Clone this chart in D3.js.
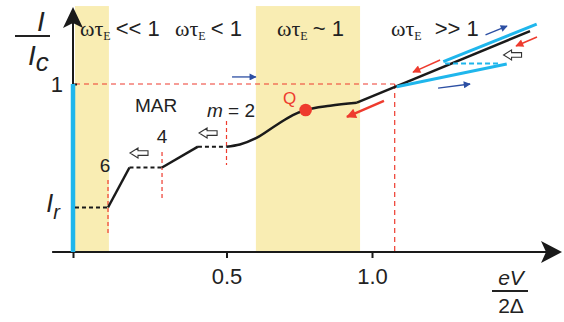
<!DOCTYPE html>
<html><head><meta charset="utf-8">
<script src="https://cdn.jsdelivr.net/npm/d3@7"></script>
<style>
html,body{margin:0;padding:0;background:#fff;}
svg{display:block;}
</style></head><body>
<svg id="chart" width="564" height="322"></svg>
<script>
// ---------- data ----------
const xTicks = [0, 0.5, 1.0];
const xTickLabels = ["", "0.5", "1.0"];
const yTicks = [1];
const yTickLabels = ["1"];
const Ir = 0.265;
const gapV = 1.078;
const regimeBands = [[0.0065, 0.117], [0.601, 0.959]];
const regimeOps = ["<< 1", "< 1", "~ 1", ">> 1"];
// MAR steps (rises solid, plateaus dashed)
const stepRises = [[[0.114, Ir], [0.184, 0.503]], [[0.290, 0.503], [0.407, 0.627]]];
const stepPlateaus = [[[0.0065, Ir], [0.114, Ir]], [[0.184, 0.503], [0.290, 0.503]], [[0.407, 0.627], [0.5, 0.627]]];
const marOrders = ["6", "4", "m = 2"];
const marVolts = [0.114, 0.290, 0.5];
const marDashSpan = [[0.113, 0.429], [0.310, 0.595], [0.518, 0.780]];
// smooth branch
const curveX = [0.5, 0.546, 0.603, 0.672, 0.728, 0.772, 0.856, 0.948];
const curveY = [0.627, 0.640, 0.679, 0.756, 0.815, 0.845, 0.871, 0.889];
const ohmicLine = [[0.948, 0.889], [1.543, 1.315]];
const Q = [0.772, 0.845];
// hysteresis (cyan)
const cyanLines = [[[1.245, 1.133], [1.566, 1.357]], [[1.085, 0.984], [1.463, 1.119]]];
const cyanDash = [[1.251, 1.122], [1.440, 1.122]];
// arrows
const blueArrows = [[[0.519, 1.042], [0.601, 1.042]], [[1.390, 1.292], [1.464, 1.345]], [[1.227, 0.976], [1.337, 1.0]]];
const redArrows = [[[1.567, 1.280], [1.495, 1.226]], [[1.234, 1.143], [1.141, 1.071]]];
const redArrowThick = [[1.041, 0.899], [0.914, 0.804]];
const hollowArrows = [[0.215, 0.589], [0.440, 0.708], [1.483, 1.173]];
const xAxisExtent = [-0.068, 1.653];
const yAxisTop = 1.458;
const bandTop = 1.464;

// ---------- scales ----------
const svg = d3.select("#chart");
const x = d3.scaleLinear().domain([0, 0.5, 1.0]).range([73, 226.5, 372]);
const y = d3.scaleLinear().domain([0, 1]).range([252, 84]);

const SANS = "'Liberation Sans', Arial, sans-serif";
const SERIF = "'Liberation Serif', 'Times New Roman', serif";
const YELLOW = "#f9edb3", RED = "#ee3b2e", CYAN = "#1fb6ec", BLUE = "#2c4fa3";

const defs = svg.append("defs");
function marker(id, color, w, h) {
  defs.append("marker").attr("id", id).attr("viewBox", "0 0 10 10")
    .attr("refX", 9).attr("refY", 5).attr("markerWidth", w).attr("markerHeight", h)
    .attr("markerUnits", "userSpaceOnUse").attr("orient", "auto")
    .append("path").attr("d", "M0,0 L10,5 L0,10 Z").attr("fill", color);
}
marker("mBlue", BLUE, 9, 7);
marker("mRed", RED, 9, 8);
marker("mRedT", RED, 12, 10);

// bands
svg.selectAll("rect.band").data(regimeBands).join("rect").attr("class", "band")
  .attr("x", d => x(d[0])).attr("width", d => x(d[1]) - x(d[0]))
  .attr("y", y(bandTop)).attr("height", y(0) - y(bandTop)).attr("fill", YELLOW);

// red dashed guides
const dash = "5,4";
svg.append("line").attr("x1", x(0.0065)).attr("x2", x(gapV)).attr("y1", y(1)).attr("y2", y(1))
  .attr("stroke", RED).attr("stroke-width", 1.2).attr("stroke-dasharray", dash);
svg.append("line").attr("x1", x(gapV)).attr("x2", x(gapV)).attr("y1", y(1)).attr("y2", y(0))
  .attr("stroke", RED).attr("stroke-width", 1.2).attr("stroke-dasharray", dash);
svg.selectAll("line.mar").data(marVolts).join("line").attr("class", "mar")
  .attr("x1", d => x(d)).attr("x2", d => x(d))
  .attr("y1", (d, i) => y(marDashSpan[i][1])).attr("y2", (d, i) => y(marDashSpan[i][0]))
  .attr("stroke", RED).attr("stroke-width", 1.2).attr("stroke-dasharray", "4,3");

// axes
svg.append("line").attr("x1", x(xAxisExtent[0])).attr("x2", x(xAxisExtent[1]) - 12)
  .attr("y1", y(0)).attr("y2", y(0)).attr("stroke", "#1a1a1a").attr("stroke-width", 2);
svg.append("path").attr("d", `M${x(xAxisExtent[1])},${y(0)} L${x(xAxisExtent[1]) - 21},${y(0) - 11} L${x(xAxisExtent[1]) - 16},${y(0)} L${x(xAxisExtent[1]) - 21},${y(0) + 11} Z`).attr("fill", "#1a1a1a");
svg.append("line").attr("x1", x(0)).attr("x2", x(0)).attr("y1", y(0)).attr("y2", y(yAxisTop) + 12)
  .attr("stroke", "#1a1a1a").attr("stroke-width", 2);
svg.append("path").attr("d", `M${x(0)},${y(yAxisTop)} L${x(0) - 10},${y(yAxisTop) + 21} L${x(0)},${y(yAxisTop) + 16} L${x(0) + 10},${y(yAxisTop) + 21} Z`).attr("fill", "#1a1a1a");

const xAxis = d3.axisBottom(x).tickValues(xTicks).tickFormat((d, i) => xTickLabels[i]).tickSize(6).tickPadding(10);
const gx = svg.append("g").attr("transform", `translate(0,${y(0)})`).call(xAxis);
gx.select(".domain").remove();
gx.selectAll(".tick line").attr("stroke", "#1a1a1a").attr("stroke-width", 2);
gx.selectAll(".tick text").attr("font-family", SANS).attr("font-size", 22).attr("fill", "#222");

const yAxis = d3.axisRight(y).tickValues(yTicks).tickFormat(() => "").tickSize(4);
const gy = svg.append("g").attr("transform", `translate(${x(0)},0)`).call(yAxis);
gy.select(".domain").remove();
gy.selectAll(".tick line").attr("stroke", "#1a1a1a").attr("stroke-width", 2);
svg.selectAll("text.ylab").data(yTicks).join("text").attr("class", "ylab")
  .attr("x", x(0) - 10).attr("y", d => y(d) + 8).attr("text-anchor", "end")
  .attr("font-family", SANS).attr("font-size", 22).attr("fill", "#222").text((d, i) => yTickLabels[i]);

// cyan superconducting branch
svg.append("line").attr("x1", x(0)).attr("x2", x(0)).attr("y1", y(0)).attr("y2", y(1))
  .attr("stroke", CYAN).attr("stroke-width", 4.5);

// Ir label
const irT = svg.append("text").attr("x", x(0) - 20).attr("y", y(Ir) + 5).attr("font-family", SANS)
  .attr("font-size", 25).attr("font-style", "italic").attr("fill", "#222").attr("text-anchor", "middle");
irT.append("tspan").text("I");
irT.append("tspan").attr("dy", 7).attr("font-size", 20).text("r");

// steps
const line = d3.line().x(d => x(d[0])).y(d => y(d[1]));
svg.selectAll("path.plateau").data(stepPlateaus).join("path").attr("class", "plateau")
  .attr("d", line).attr("fill", "none").attr("stroke", "#1a1a1a").attr("stroke-width", 2).attr("stroke-dasharray", "4,3");
svg.selectAll("path.rise").data(stepRises).join("path").attr("class", "rise")
  .attr("d", line).attr("fill", "none").attr("stroke", "#1a1a1a").attr("stroke-width", 2.5);
svg.append("path").attr("d", line.curve(d3.curveMonotoneX)(curveX.map((v, i) => [v, curveY[i]])))
  .attr("fill", "none").attr("stroke", "#1a1a1a").attr("stroke-width", 2.5);
line.curve(d3.curveLinear);
svg.append("path").attr("d", line(ohmicLine)).attr("fill", "none").attr("stroke", "#1a1a1a").attr("stroke-width", 2.5);

// cyan hysteresis
svg.selectAll("path.cy").data(cyanLines).join("path").attr("class", "cy").attr("d", line)
  .attr("fill", "none").attr("stroke", CYAN).attr("stroke-width", 3);
svg.append("path").attr("d", line(cyanDash)).attr("fill", "none").attr("stroke", CYAN)
  .attr("stroke-width", 1.8).attr("stroke-dasharray", "5,3");

// Q point
svg.append("circle").attr("cx", x(Q[0])).attr("cy", y(Q[1])).attr("r", 6.3).attr("fill", RED);
svg.append("text").attr("x", x(Q[0]) - 16).attr("y", y(Q[1]) - 6).attr("text-anchor", "middle")
  .attr("font-family", SANS).attr("font-size", 17).attr("fill", RED).text("Q");

// arrows
svg.selectAll("path.ba").data(blueArrows).join("path").attr("class", "ba").attr("d", line)
  .attr("stroke", BLUE).attr("stroke-width", 1.3).attr("fill", "none").attr("marker-end", "url(#mBlue)");
svg.selectAll("path.ra").data(redArrows).join("path").attr("class", "ra").attr("d", line)
  .attr("stroke", RED).attr("stroke-width", 1.5).attr("fill", "none").attr("marker-end", "url(#mRed)");
svg.append("path").attr("d", line(redArrowThick)).attr("stroke", RED).attr("stroke-width", 2.5)
  .attr("fill", "none").attr("marker-end", "url(#mRedT)");
svg.selectAll("path.ha").data(hollowArrows).join("path").attr("class", "ha")
  .attr("transform", d => `translate(${x(d[0])},${y(d[1])})`)
  .attr("d", "M-9,0 L-1,-5 L-1,-2.3 L9,-2.3 L9,2.3 L-1,2.3 L-1,5 Z")
  .attr("fill", "#fff").attr("stroke", "#333").attr("stroke-width", 1.1);

// MAR labels
const labFont = { "font-family": SANS, "font-size": 19, "fill": "#222" };
function applyFont(sel, f) { Object.entries(f).forEach(([k, v]) => sel.attr(k, v)); return sel; }
applyFont(svg.append("text").attr("x", 156).attr("y", 112).attr("text-anchor", "middle"), labFont).text("MAR");
applyFont(svg.append("text").attr("x", x(marVolts[0]) - 3).attr("y", 172).attr("text-anchor", "middle"), labFont).text(marOrders[0]);
applyFont(svg.append("text").attr("x", x(marVolts[1])).attr("y", 143).attr("text-anchor", "middle"), labFont).text(marOrders[1]);
const m2 = applyFont(svg.append("text").attr("x", 231).attr("y", 117).attr("text-anchor", "middle"), labFont);
m2.append("tspan").attr("font-style", "italic").text("m");
m2.append("tspan").text(" = 2");

// regime labels
const regimeX = [80, 175, 277, 391];
const regimeGap = [5, 5, 5, 13];
regimeOps.forEach((op, i) => {
  const t = svg.append("text").attr("x", regimeX[i]).attr("y", 36).attr("fill", "#222");
  t.append("tspan").attr("font-family", SERIF).attr("font-size", 22).text("ωτ");
  t.append("tspan").attr("font-family", SERIF).attr("font-size", 12).attr("dy", 4).text("E");
  t.append("tspan").attr("font-family", SANS).attr("font-size", 22).attr("dy", -4).attr("dx", regimeGap[i]).text(op);
});

// y label I / Ic
svg.append("text").attr("x", 41).attr("y", 31).attr("text-anchor", "middle").attr("font-family", SANS)
  .attr("font-style", "italic").attr("font-size", 28).attr("fill", "#222").text("I");
svg.append("line").attr("x1", 15).attr("x2", 50).attr("y1", 36).attr("y2", 36).attr("stroke", "#222").attr("stroke-width", 2);
const ic = svg.append("text").attr("x", 28).attr("y", 65).attr("font-family", SANS)
  .attr("font-style", "italic").attr("font-size", 28).attr("fill", "#222");
ic.append("tspan").text("I");
ic.append("tspan").attr("dy", 6).attr("font-size", 26).text("c");

// x label eV / 2Δ
svg.append("text").attr("x", 511).attr("y", 285).attr("text-anchor", "middle").attr("font-family", SANS)
  .attr("font-style", "italic").attr("font-size", 21).attr("fill", "#222").text("eV");
svg.append("line").attr("x1", 492).attr("x2", 528).attr("y1", 291).attr("y2", 291).attr("stroke", "#222").attr("stroke-width", 2);
svg.append("text").attr("x", 511).attr("y", 313).attr("text-anchor", "middle").attr("font-family", SANS)
  .attr("font-size", 21).attr("fill", "#222").text("2Δ");
</script>
</body></html>
